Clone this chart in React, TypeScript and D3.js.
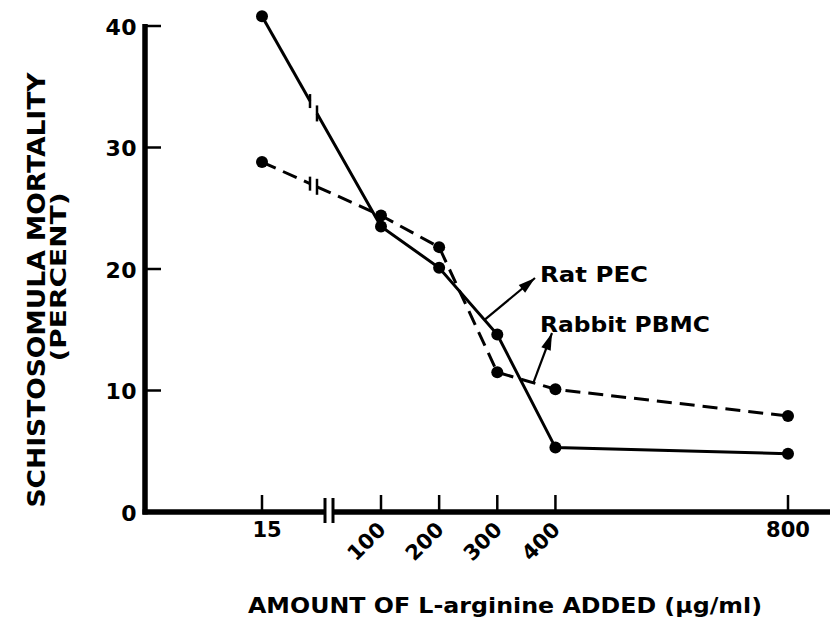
import React from "react";
import * as d3 from "d3";

const doses = [15, 100, 200, 300, 400, 800];
const ratPEC = [40.8, 23.5, 20.1, 14.6, 5.3, 4.8];
const rabbitPBMC = [28.8, 24.4, 21.8, 11.5, 10.1, 7.9];
const yTicks = [0, 10, 20, 30, 40];
const xTicksFlat = [15, 800];
const xTicksRotated = [100, 200, 300, 400];
const seriesNames = ["Rat PEC", "Rabbit PBMC"];
const yTitleLines = ["SCHISTOSOMULA MORTALITY", "(PERCENT)"];
const xTitle = "AMOUNT OF L-arginine ADDED (µg/ml)";

const FONT = "'DejaVu Sans', 'Liberation Sans', Arial, sans-serif";

type P = [number, number];

function arrowHead(s: P, e: P, len = 17, half = 5) {
  const dx = e[0] - s[0];
  const dy = e[1] - s[1];
  const L = Math.hypot(dx, dy);
  const ux = dx / L, uy = dy / L;
  const bx = e[0] - ux * len, by = e[1] - uy * len;
  const nx = -uy, ny = ux;
  return `M${e[0]},${e[1]}L${bx + nx * half},${by + ny * half}L${bx - nx * half},${by - ny * half}Z`;
}

export default function App() {
  const x = d3.scaleLinear().domain([15, 100, 800]).range([262, 381, 788]);
  const y = d3.scaleLinear().domain([0, 40]).range([512, 26]);
  const axisLeft = 145;
  const axisBottom = y(0);
  const line = d3.line<P>().x((d) => d[0]).y((d) => d[1]);

  const breakX = 313.5;
  const gapHalf = 3.5;
  const axisBreak = [325, 333];

  const series = [ratPEC, rabbitPBMC].map((vals, si) => {
    const pts: P[] = doses.map((d, i) => [x(d), y(vals[i])]);
    const p0 = pts[0], p1 = pts[1];
    const at = (xx: number): P => {
      const t = (xx - p0[0]) / (p1[0] - p0[0]);
      return [xx, p0[1] + t * (p1[1] - p0[1])];
    };
    const g0 = at(breakX - gapHalf);
    const g1 = at(breakX + gapHalf);
    return { pts, g0, g1, dashed: si === 1 };
  });

  const ratPts = series[0].pts;
  const rabPts = series[1].pts;
  const lerp = (a: P, b: P, t: number): P => [a[0] + (b[0] - a[0]) * t, a[1] + (b[1] - a[1]) * t];
  const ratArrowStart = lerp(ratPts[2], ratPts[3], 0.78);
  const ratArrowEnd: P = [535, 278];
  const rabArrowStart = lerp(rabPts[3], rabPts[4], 0.62);
  const rabArrowEnd: P = [552, 333];

  return (
    <div style={{ position: "absolute", left: 0, top: 0 }}>
      <svg width={830} height={617} style={{ display: "block", background: "#fff" }} fontFamily={FONT} fontWeight="bold">
        <rect width={830} height={617} fill="#fff" />
        {/* Y axis */}
        <line x1={axisLeft} x2={axisLeft} y1={y(40) - 2} y2={axisBottom + 2.5} stroke="#000" strokeWidth={5.5} />
        {yTicks.map((t) => (
          <g key={t}>
            {t > 0 && <line x1={axisLeft} x2={161} y1={y(t)} y2={y(t)} stroke="#000" strokeWidth={2.5} />}
            <text x={137} y={y(t) + 1} textAnchor="end" dominantBaseline="central" fontSize={22} letterSpacing={0.5} fill="#000">
              {t}
            </text>
          </g>
        ))}
        {/* X axis */}
        <line x1={axisLeft - 2.5} x2={axisBreak[0]} y1={axisBottom} y2={axisBottom} stroke="#000" strokeWidth={5.5} />
        <line x1={axisBreak[1]} x2={830} y1={axisBottom} y2={axisBottom} stroke="#000" strokeWidth={5.5} />
        {axisBreak.map((bx) => (
          <line key={bx} x1={bx} x2={bx} y1={axisBottom - 14} y2={axisBottom + 11} stroke="#000" strokeWidth={3} />
        ))}
        {doses.map((d) => (
          <line key={d} x1={x(d)} x2={x(d)} y1={axisBottom - 17} y2={axisBottom} stroke="#000" strokeWidth={2.5} />
        ))}
        {xTicksFlat.map((d) => (
          <text key={d} x={x(d) + (d === 15 ? 5 : 0)} y={537} textAnchor="middle" fontSize={21} fill="#000">
            {d}
          </text>
        ))}
        {xTicksRotated.map((d) => (
          <text key={d} transform={`translate(${x(d) + 6},${531}) rotate(-45)`} textAnchor="end" fontSize={21} fill="#000">
            {d}
          </text>
        ))}
        {/* Titles */}
        <text x={505} y={613} textAnchor="middle" fontSize={22} textLength={514} lengthAdjust="spacingAndGlyphs" fill="#000">
          {xTitle}
        </text>
        <text transform="translate(45,290) rotate(-90)" textAnchor="middle" fontSize={24} textLength={435} lengthAdjust="spacingAndGlyphs" fill="#000">
          {yTitleLines[0]}
        </text>
        <text transform="translate(66,277) rotate(-90)" textAnchor="middle" fontSize={22} textLength={169} lengthAdjust="spacingAndGlyphs" fill="#000">
          {yTitleLines[1]}
        </text>
        {/* Series */}
        {series.map((s, i) => (
          <g key={i} stroke="#000" fill="none" strokeWidth={3} strokeDasharray={s.dashed ? "15,8" : undefined}>
            <path d={line([s.pts[0], s.g0]) || ""} />
            <path d={line([s.g1, ...s.pts.slice(1)]) || ""} />
            <line x1={s.g0[0]} x2={s.g0[0]} y1={s.g0[1] - 7} y2={s.g0[1] + 7} strokeDasharray="none" strokeWidth={2.5} />
            <line x1={s.g1[0]} x2={s.g1[0]} y1={s.g1[1] - 8} y2={s.g1[1] + 8} strokeDasharray="none" strokeWidth={2.5} />
          </g>
        ))}
        {series.map((s, i) => (
          <g key={"d" + i}>
            {s.pts.map((p, j) => (
              <circle key={j} cx={p[0]} cy={p[1]} r={6} fill="#000" />
            ))}
          </g>
        ))}
        {/* Annotations */}
        <line x1={ratArrowStart[0]} y1={ratArrowStart[1]} x2={ratArrowEnd[0]} y2={ratArrowEnd[1]} stroke="#000" strokeWidth={2.2} />
        <path d={arrowHead(ratArrowStart, ratArrowEnd)} fill="#000" />
        <line x1={rabArrowStart[0]} y1={rabArrowStart[1]} x2={rabArrowEnd[0]} y2={rabArrowEnd[1]} stroke="#000" strokeWidth={2.2} />
        <path d={arrowHead(rabArrowStart, rabArrowEnd)} fill="#000" />
        <text x={540} y={282} fontSize={22} textLength={108} lengthAdjust="spacingAndGlyphs" fill="#000">
          {seriesNames[0]}
        </text>
        <text x={540} y={332} fontSize={22} textLength={170} lengthAdjust="spacingAndGlyphs" fill="#000">
          {seriesNames[1]}
        </text>
      </svg>
    </div>
  );
}
